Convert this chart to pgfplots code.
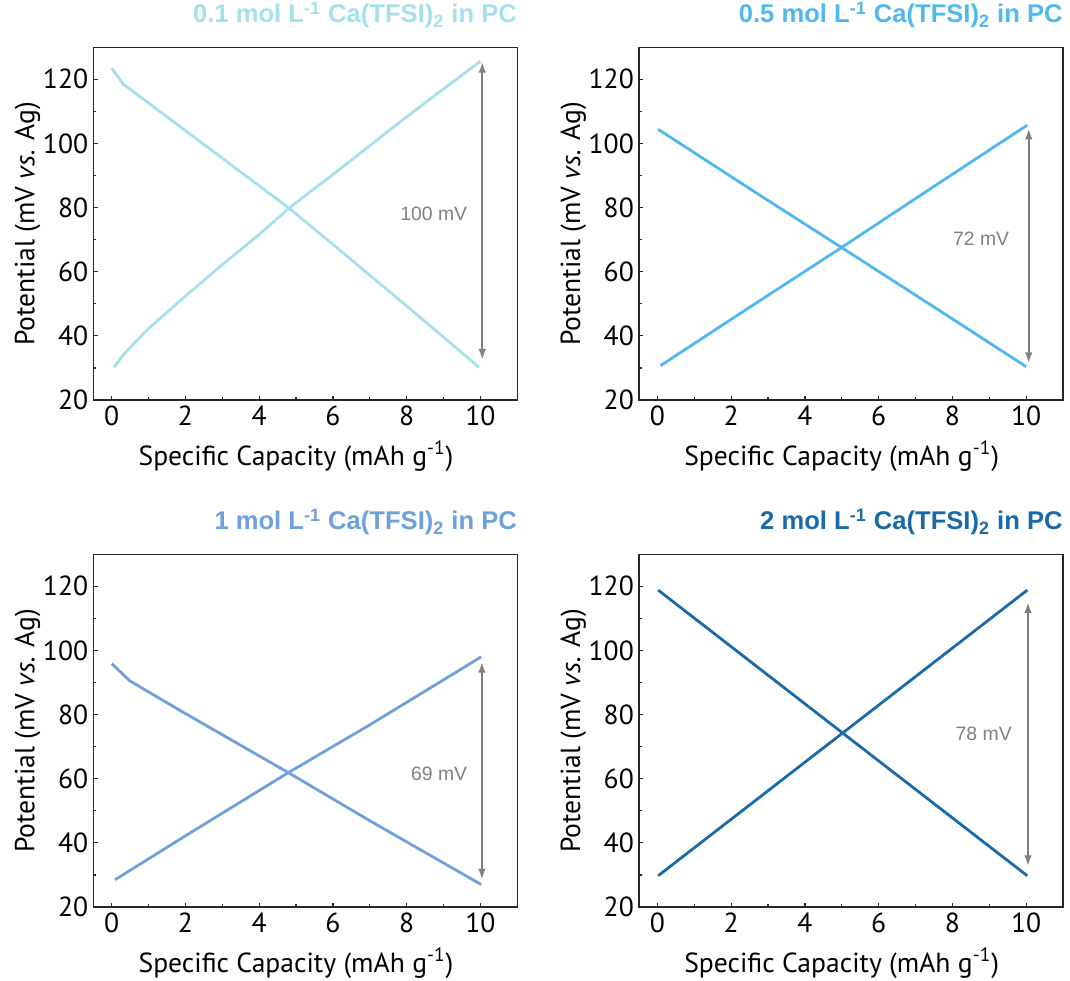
\documentclass[border=0pt]{standalone}
\usepackage{fontspec}
\setmainfont{PT Sans}
\newfontfamily\arialfont{Liberation Sans}
\usepackage{pgfplots}
\pgfplotsset{compat=1.18}
\usetikzlibrary{arrows.meta}
\definecolor{cA}{RGB}{166,224,236}
\definecolor{cB}{RGB}{79,184,238}
\definecolor{cC}{RGB}{110,160,220}
\definecolor{cD}{RGB}{26,106,168}
\definecolor{annc}{RGB}{128,128,128}
\tikzset{lab/.style={annc, anchor=east, inner sep=0pt, font=\arialfont\fontsize{9.7}{11}\selectfont}}
\pgfplotsset{
  panel/.style={
    scale only axis, width=212pt, height=176.4pt,
    xmin=-0.5, xmax=11, ymin=20, ymax=130,
    xtick={0,2,...,10}, ytick={20,40,...,120},
    minor x tick num=1, minor y tick num=1,
    tick align=inside, xtick pos=left, ytick pos=left,
    major tick length=2.2pt, minor tick length=1.3pt,
    axis line style={black!85, line width=0.6pt},
    every tick/.style={black!85, line width=0.6pt},
    /pgf/number format/assume math mode=true,
    ticklabel style={font=\fontsize{13.8}{15}\selectfont, inner sep=0pt},
    xticklabel style={yshift=-2.5pt},
    yticklabel style={xshift=-2.4pt},
    label style={font=\fontsize{13.8}{15}\selectfont, inner sep=0pt},
    xlabel={Specific Capacity (mAh g\textsuperscript{-1})},
    ylabel={Potential (mV \textit{vs.} Ag)},
    xlabel style={at={(axis description cs:0.478,0)}, anchor=base, yshift=-32.5pt},
    ylabel style={at={([xshift=-29.5pt]axis description cs:0,0.5)}, anchor=base},
    title style={at={(axis description cs:1,1)}, anchor=base east, yshift=6.2pt, inner sep=0pt,
      font=\arialfont\bfseries\fontsize{12.8}{14}\selectfont},
  },
  curve/.style={line width=1.4pt, line join=round},
  dim/.style={annc, line width=1.1pt, arrows={Latex[length=5.5pt,width=3.8pt]-Latex[length=5.5pt,width=3.8pt]}},
}
\begin{document}
\begin{tikzpicture}
\useasboundingbox (0,0) rectangle (535pt,-490pt);
% top left
\begin{axis}[panel, at={(46.65pt,-200pt)}, anchor=south west,
  title={\color{cA}0.1 mol L\textsuperscript{-1} Ca(TFSI)\textsubscript{2} in PC}]
\addplot[curve, cA] coordinates {(0.0,123.5) (0.31,118.5) (1,112.6) (2,104) (3,95.4) (4,86.8) (4.79,80) (6,68.5) (7,58.9) (8,49.3) (9,39.6) (9.96,30.2)};
\addplot[curve, cA] coordinates {(0.06,30.2) (0.31,34) (0.6,37.6) (1,42.3) (2,52.4) (3,62.2) (4,71.6) (4.79,79.6) (5.28,84) (6,90.3) (7,99.3) (8,108.3) (9,117) (10,125.6)};
\addplot[dim] coordinates {(10.05,32.5) (10.05,125.5)};
\node[lab] at (axis cs:9.65,78.2) {100 mV};
\end{axis}
% top right
\begin{axis}[panel, at={(319.5pt,-200pt)}, anchor=south west,
  title={\color{cB}0.5 mol L\textsuperscript{-1} Ca(TFSI)\textsubscript{2} in PC}]
\addplot[curve, cB] coordinates {(0.02,104.4) (2.5,85.9) (5,67.5) (7.5,49) (10,30.4)};
\addplot[curve, cB] coordinates {(0.08,30.7) (2.5,48.9) (5,67.6) (7.5,86.6) (10.03,105.7)};
\addplot[dim] coordinates {(10.07,31.4) (10.07,104.7)};
\node[lab] at (axis cs:9.55,70.2) {72 mV};
\end{axis}
% bottom left
\begin{axis}[panel, at={(46.65pt,-453.5pt)}, anchor=south west,
  title={\color{cC}1 mol L\textsuperscript{-1} Ca(TFSI)\textsubscript{2} in PC}]
\addplot[curve, cC] coordinates {(0,95.9) (0.49,90.5) (2,80.3) (4.79,61.9) (7,46.9) (10.02,27.0)};
\addplot[curve, cC] coordinates {(0.09,28.5) (2,42.2) (4.79,61.9) (7,76.8) (10.02,98)};
\addplot[dim] coordinates {(10.04,28.5) (10.04,96.5)};
\node[lab] at (axis cs:9.65,61.6) {69 mV};
\end{axis}
% bottom right
\begin{axis}[panel, at={(319.5pt,-453.5pt)}, anchor=south west,
  title={\color{cD}2 mol L\textsuperscript{-1} Ca(TFSI)\textsubscript{2} in PC}]
\addplot[curve, cD] coordinates {(0.02,118.8) (5.04,74.1) (10.03,29.75)};
\addplot[curve, cD] coordinates {(0.02,29.75) (5.04,74.4) (10.03,118.8)};
\addplot[dim] coordinates {(10.05,32.7) (10.05,115.1)};
\node[lab] at (axis cs:9.62,74.1) {78 mV};
\end{axis}
\end{tikzpicture}
\end{document}
